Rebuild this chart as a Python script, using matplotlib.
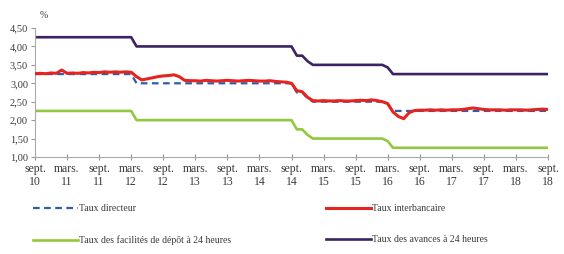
import numpy as np
import matplotlib
matplotlib.use("Agg")
import matplotlib.pyplot as plt

# monthly data, sept. 2010 -> sept. 2018 (97 months)
taux_directeur = ([3.25] * 19 + [3.00] * 30 + [2.75] * 2 + [2.60]
                  + [2.50] * 14 + [2.43] + [2.25] * 30)
taux_depot = ([2.25] * 19 + [2.00] * 30 + [1.75] * 2 + [1.60]
              + [1.50] * 14 + [1.43] + [1.25] * 30)
taux_avances = ([4.25] * 19 + [4.00] * 30 + [3.75] * 2 + [3.60]
                + [3.50] * 14 + [3.43] + [3.25] * 30)
taux_interbancaire = [
    3.26, 3.27, 3.26, 3.28, 3.27, 3.36, 3.27, 3.28, 3.27, 3.29, 3.28, 3.30,
    3.29, 3.31, 3.30, 3.31, 3.30, 3.31, 3.30, 3.18, 3.09, 3.12, 3.15, 3.18,
    3.20, 3.21, 3.23, 3.18, 3.08, 3.07, 3.07, 3.06, 3.08, 3.07, 3.06, 3.07,
    3.08, 3.07, 3.06, 3.07, 3.08, 3.07, 3.06, 3.06, 3.07, 3.05, 3.04, 3.03,
    3.00, 2.80, 2.77, 2.62, 2.53, 2.52, 2.53, 2.52, 2.52, 2.53, 2.52, 2.52,
    2.53, 2.54, 2.53, 2.55, 2.53, 2.50, 2.45, 2.22, 2.10, 2.04, 2.20, 2.26,
    2.27, 2.27, 2.28, 2.27, 2.28, 2.27, 2.28, 2.28, 2.29, 2.31, 2.33, 2.31,
    2.29, 2.28, 2.28, 2.28, 2.27, 2.28, 2.28, 2.28, 2.27, 2.28, 2.29, 2.30,
    2.29,
]
tick_labels = ["sept.\n10", "mars.\n11", "sept.\n11", "mars.\n12", "sept.\n12",
               "mars.\n13", "sept.\n13", "mars.\n14", "sept.\n14", "mars.\n15",
               "sept.\n15", "mars.\n16", "sept.\n16", "mars.\n17", "sept.\n17",
               "mars.\n18", "sept.\n18"]
y_ticks = [1.0, 1.5, 2.0, 2.5, 3.0, 3.5, 4.0, 4.5]

plt.rcParams['font.family'] = ['Liberation Serif', 'DejaVu Serif']
txt = "#3a3a3a"

fig = plt.figure(figsize=(5.64, 2.54), dpi=100)
ax = fig.add_axes([35 / 564, 1 - 157 / 254, 513 / 564, 129 / 254])

x = np.arange(len(taux_directeur))
l_av, = ax.plot(x, taux_avances, color="#3d2363", lw=1.9)
l_dep, = ax.plot(x, taux_depot, color="#92c83e", lw=1.9)
l_dir, = ax.plot(x, taux_directeur, color="#2f5da8", lw=1.6, ls=(0, (3, 2)), zorder=2)
# red line drawn over the dashed one, as in the original
l_ib, = ax.plot(x, taux_interbancaire, color="#e5231f", lw=2.2, zorder=3)

ax.set_xlim(0, len(x) - 1)
ax.set_ylim(1.0, 4.5)
ax.set_yticks(y_ticks)
ax.set_yticklabels([f"{v:.2f}".replace(".", ",") for v in y_ticks])
ax.set_xticks(np.arange(0, len(x), 6))
ax.set_xticklabels(tick_labels)
ax.tick_params(axis="y", labelsize=7.5, colors="#999999", labelcolor=txt,
               length=3, width=0.8, pad=2)
ax.tick_params(axis="x", labelsize=8.5, colors="#999999", labelcolor=txt,
               length=4, width=0.8, direction="inout", pad=2)
for s in ["top", "right"]:
    ax.spines[s].set_visible(False)
for s in ["left", "bottom"]:
    ax.spines[s].set_color("#aaaaaa")
    ax.spines[s].set_linewidth(0.8)

fig.text(40 / 564, 1 - 15 / 254, "%", fontsize=7, color=txt, va="center")

leg_kw = dict(frameon=False, fontsize=7, handlelength=4.6, handletextpad=0.15,
              labelspacing=2.3, labelcolor=txt, borderaxespad=0, borderpad=0)
fig.legend([l_dir, l_dep], ["Taux directeur", "Taux des facilités de dépôt à 24 heures"],
           loc="upper left", bbox_to_anchor=(33 / 564, 1 - 204 / 254), **leg_kw)
fig.legend([l_ib, l_av], ["Taux interbancaire", "Taux des avances à 24 heures"],
           loc="upper left", bbox_to_anchor=(326 / 564, 1 - 204 / 254), **leg_kw)

fig.savefig("out.png", dpi=100)
